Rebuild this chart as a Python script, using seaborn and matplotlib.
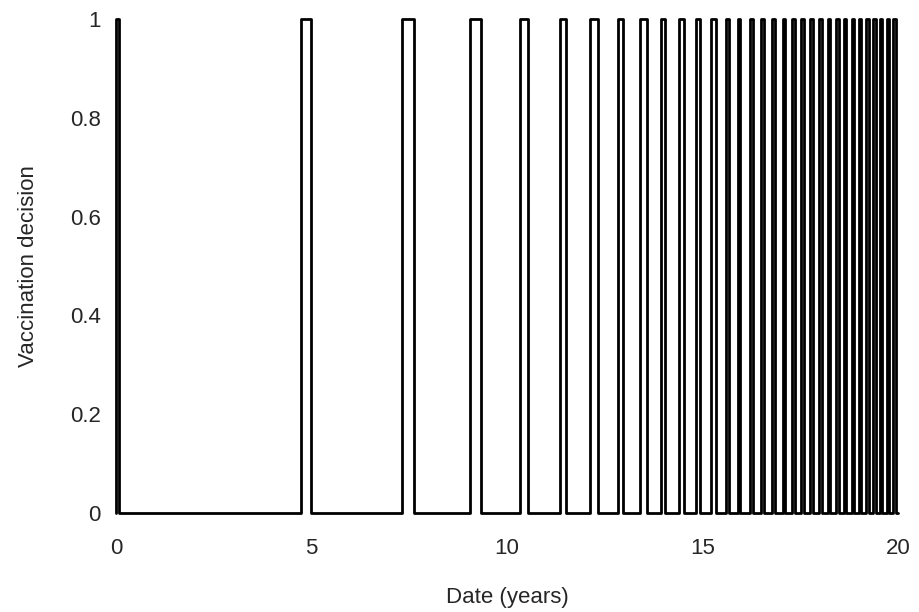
import numpy as np
import pandas as pd
import seaborn as sns
import matplotlib
matplotlib.use("Agg")
import matplotlib.pyplot as plt

# switch-on / switch-off dates (years) of each vaccination pulse
pulse_start = [0.00, 4.73, 7.31, 9.06, 10.34, 11.36, 12.13, 12.84, 13.41, 13.94,
               14.41, 14.83, 15.23, 15.61, 15.90, 16.22, 16.51, 16.79, 17.05, 17.30,
               17.53, 17.76, 17.99, 18.21, 18.42, 18.61, 18.82, 19.00, 19.19, 19.37,
               19.54, 19.72, 19.88]
pulse_end = [0.08, 4.99, 7.61, 9.34, 10.55, 11.51, 12.33, 12.98, 13.58, 14.05,
             14.52, 14.94, 15.35, 15.68, 15.97, 16.29, 16.58, 16.86, 17.11, 17.37,
             17.60, 17.82, 18.05, 18.27, 18.48, 18.67, 18.88, 19.06, 19.25, 19.43,
             19.60, 19.78, 19.94]
t_end = 20.0

# build the step series (decision is 1 inside a pulse, 0 otherwise)
t, d = [], []
for s, e in zip(pulse_start, pulse_end):
    t += [s, s, e, e]
    d += [0, 1, 1, 0]
t.append(t_end)
d.append(0)
df = pd.DataFrame({"Date (years)": t, "Vaccination decision": d})

sns.set_style("white")
plt.rcParams["font.family"] = ["Liberation Sans", "DejaVu Sans"]

fig = plt.figure(figsize=(9.19, 6.12), dpi=100)
ax = fig.add_axes([0.1262, 0.1618, 0.8509, 0.8072])

sns.lineplot(data=df, x="Date (years)", y="Vaccination decision", ax=ax,
             color="black", linewidth=2.0, estimator=None, sort=False)

ax.set_xlim(0, 20)
ax.set_ylim(0, 1)
ax.set_xticks([0, 5, 10, 15, 20])
ax.set_xticklabels(["0", "5", "10", "15", "20"])
ax.set_yticks([0, 0.2, 0.4, 0.6, 0.8, 1])
ax.set_yticklabels(["0", "0.2", "0.4", "0.6", "0.8", "1"])
ax.tick_params(axis="x", length=0, pad=18, labelsize=16)
ax.tick_params(axis="y", length=0, pad=11, labelsize=16)
for sp in ax.spines.values():
    sp.set_visible(False)
for line in ax.get_lines():
    line.set_clip_on(False)
ax.set_xlabel("Date (years)", fontsize=16, labelpad=20)
ax.set_ylabel("Vaccination decision", fontsize=16, labelpad=22)

fig.savefig("out.png", dpi=100)
